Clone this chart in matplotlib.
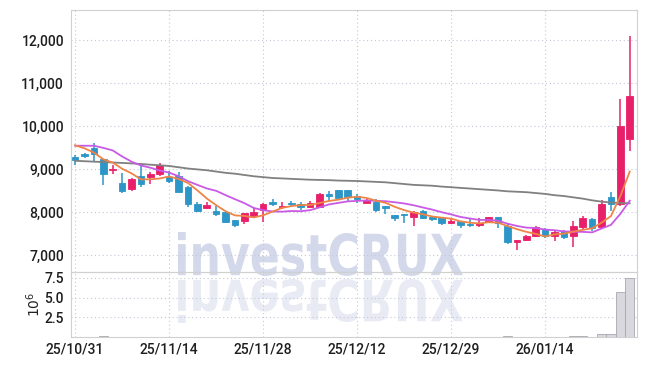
import numpy as np
import pandas as pd
import matplotlib
matplotlib.use("Agg")
import matplotlib.pyplot as plt
from matplotlib.textpath import TextPath
from matplotlib.patches import PathPatch
from matplotlib.font_manager import FontProperties
from matplotlib.transforms import Affine2D

# trading days (KRX holidays removed)
holidays = ["2025-12-25", "2025-12-31", "2026-01-01"]
dates = pd.bdate_range("2025-10-31", "2026-01-27").drop(pd.to_datetime(holidays))

opens = [9280, 9320, 9480, 9230, 8970, 8680, 8540, 8840, 8810, 8880,
         8820, 8840, 8590, 8190, 8100, 8020, 7990, 7810, 7800, 7910,
         8050, 8210, 8110, 8200, 8180, 8110, 8120, 8390, 8510, 8510,
         8360, 8220, 8240, 8110, 7930, 7940, 7890, 8030, 7890, 7890,
         7750, 7780, 7720, 7690, 7780, 7880, 7680, 7300, 7350, 7440,
         7600, 7440, 7560, 7430, 7660, 7830, 7640, 8340, 8190, 9690]
highs = [9330, 9380, 9610, 9240, 9100, 8900, 8790, 9130, 8940, 9140,
         8950, 8930, 8600, 8240, 8240, 8140, 8010, 7820, 7980, 8090,
         8200, 8300, 8240, 8260, 8240, 8250, 8440, 8490, 8510, 8510,
         8410, 8300, 8300, 8150, 7930, 7950, 8020, 8050, 7910, 7890,
         7840, 7790, 7830, 7850, 7890, 7890, 7740, 7340, 7470, 7680,
         7620, 7580, 7580, 7790, 7910, 7870, 8270, 8460, 10620, 12100]
lows = [9100, 9250, 9190, 8630, 8880, 8450, 8480, 8570, 8650, 8840,
        8670, 8460, 8120, 8010, 8060, 7910, 7740, 7660, 7720, 7850,
        7760, 8140, 8060, 8110, 8050, 8110, 8120, 8260, 8320, 8260,
        8220, 8210, 7990, 7960, 7780, 7740, 7670, 7840, 7800, 7700,
        7720, 7620, 7660, 7660, 7760, 7630, 7260, 7120, 7320, 7420,
        7400, 7330, 7360, 7190, 7600, 7560, 7620, 8030, 8150, 9420]
closes = [9210, 9310, 9340, 8880, 9000, 8495, 8770, 8640, 8890, 9100,
          8730, 8470, 8180, 8030, 8160, 7950, 7760, 7700, 7970, 7990,
          8190, 8190, 8130, 8180, 8110, 8200, 8420, 8370, 8330, 8340,
          8310, 8280, 8050, 8090, 7870, 7920, 8000, 7850, 7830, 7740,
          7800, 7690, 7690, 7750, 7880, 7740, 7300, 7330, 7440, 7640,
          7440, 7540, 7420, 7670, 7850, 7620, 8190, 8190, 10000, 10700]
# volume in millions of shares
volumes = [0.05, 0.04, 0.06, 0.2, 0.05, 0.06, 0.05, 0.05, 0.04, 0.05,
           0.04, 0.05, 0.06, 0.04, 0.03, 0.04, 0.05, 0.04, 0.03, 0.04,
           0.05, 0.03, 0.03, 0.03, 0.03, 0.03, 0.06, 0.04, 0.04, 0.03,
           0.03, 0.03, 0.04, 0.03, 0.03, 0.03, 0.03, 0.04, 0.03, 0.03,
           0.03, 0.03, 0.03, 0.03, 0.03, 0.04, 0.15, 0.06, 0.04, 0.05,
           0.04, 0.04, 0.04, 0.2, 0.2, 0.06, 0.45, 0.35, 5.7, 7.45]
# moving-average values before enough history is on screen
ma5_head = [9550, 9480, 9380, 9225]
ma10_head = [9540, 9540, 9540, 9490, 9430, 9290, 9170, 9080, 9030]
ma_long = [9190, 9180, 9170, 9160, 9150, 9140, 9130, 9115, 9100, 9085,
           9070, 9040, 9010, 8990, 8970, 8940, 8910, 8890, 8860, 8830,
           8810, 8790, 8780, 8770, 8760, 8750, 8745, 8740, 8730, 8725,
           8720, 8710, 8700, 8690, 8670, 8650, 8630, 8620, 8610, 8590,
           8575, 8560, 8545, 8530, 8515, 8500, 8480, 8470, 8460, 8440,
           8420, 8390, 8370, 8340, 8310, 8270, 8240, 8220, 8210, 8200]

UP = "#e8206a"
DOWN = "#2c96c8"
GRID = "#c5c8da"
SPINE = "#d0d0d0"
TICKFONT = ["Roboto", "DejaVu Sans"]

o = np.array(opens, float)
c = np.array(closes, float)
x = np.arange(len(o))
cs = pd.Series(c)
ma5 = cs.rolling(5).mean().to_numpy()
ma5[:len(ma5_head)] = ma5_head
ma10 = cs.rolling(10).mean().to_numpy()
ma10[:len(ma10_head)] = ma10_head

fig = plt.figure(figsize=(6.45, 3.66), dpi=100, facecolor="white")
ax = fig.add_axes([0.110, 0.257, 0.878, 0.716])
axv = fig.add_axes([0.110, 0.079, 0.878, 0.178], sharex=ax)
for a in (ax, axv):
    a.set_facecolor("none")
    for s in a.spines.values():
        s.set_color(SPINE)
    a.grid(True, color=GRID, linestyle=(0, (1, 2.5)), linewidth=0.8)
    a.tick_params(length=0, labelsize=10, colors="#1e1e1e")
    a.set_axisbelow(True)

# watermark + reflection
fp = FontProperties(family="DejaVu Sans", weight="bold")
tp = TextPath((0, 0), "investCRUX", size=100, prop=fp)
bb = tp.get_extents()
sx = 285 / bb.width
sy = 44 / bb.height
base = Affine2D().translate(-bb.x0, -bb.y0)
t1 = base + Affine2D().scale(sx / 100, sy / 100).translate(1.78, 0.90) + fig.dpi_scale_trans
t2 = base + Affine2D().scale(sx / 100, -sy / 100).translate(1.78, 0.87) + fig.dpi_scale_trans
fig.add_artist(PathPatch(tp, transform=t1, facecolor="#d3d9eb", edgecolor="none", zorder=-1))
fig.add_artist(PathPatch(tp, transform=t2, facecolor="#e8ebf3", edgecolor="none", zorder=-1))

# candles
up = c >= o
colors = np.where(up, UP, DOWN)
body_lo = np.minimum(o, c)
body_h = np.maximum(np.abs(c - o), 40)
ax.vlines(x, lows, highs, colors=colors, linewidth=1.1, zorder=3)
ax.bar(x, body_h, bottom=body_lo, width=0.7, color=colors, edgecolor=colors,
       linewidth=0.6, zorder=4)

ax.plot(x, ma_long, color="#808080", linewidth=1.3, zorder=5)
ax.plot(x, ma10, color="#c95ae6", linewidth=1.3, zorder=5)
ax.plot(x, ma5, color="#ef8447", linewidth=1.3, zorder=5)

yt = [7000, 8000, 9000, 10000, 11000, 12000]
ax.set_ylim(6605, 12700)
ax.set_yticks(yt)
ax.set_yticklabels([f"{v:,}" for v in yt], family=TICKFONT, weight="medium")
ax.set_xlim(-0.45, 59.8)
ax.tick_params(axis="x", labelbottom=False)
ax.tick_params(axis="y", pad=5)

# volume
axv.bar(x, volumes, width=1.0, color="#d8d8de", edgecolor="#a8a8b0", linewidth=0.6, zorder=3)
axv.set_ylim(0, 8.25)
axv.set_yticks([2.5, 5.0, 7.5])
axv.set_yticklabels(["2.5", "5.0", "7.5"], family=TICKFONT, weight="medium")
axv.tick_params(axis="y", pad=5)
axv.set_ylabel(r"$10^6$", fontsize=10, color="#222222", labelpad=1)
ticks = [0, 10, 20, 30, 40, 50]
axv.set_xticks(ticks)
axv.set_xticklabels([dates[i].strftime("%y/%m/%d") for i in ticks], family=TICKFONT,
                    weight="medium")
axv.tick_params(axis="x", pad=4)

fig.savefig("out.png", dpi=100, facecolor="white")
